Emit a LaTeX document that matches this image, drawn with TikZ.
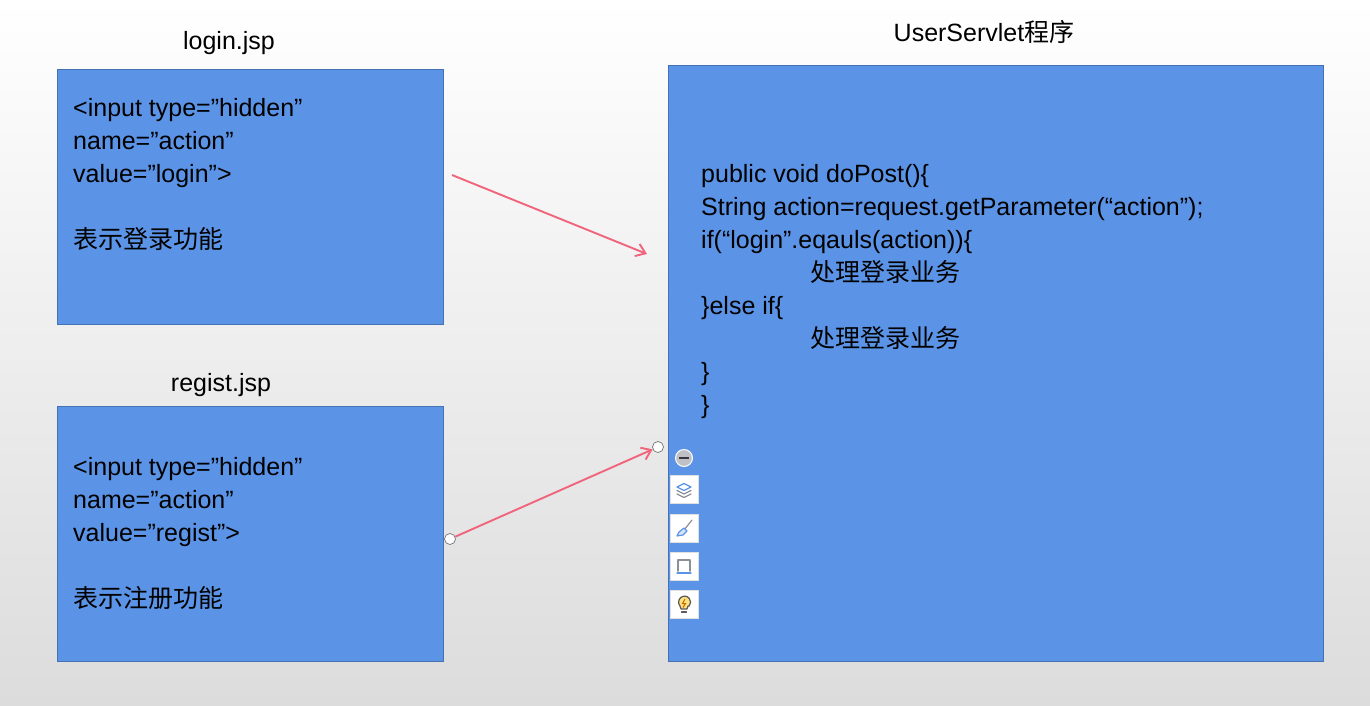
\documentclass[tikz,border=0pt]{standalone}
\usepackage{fontspec}
\usepackage{xcolor}
\usetikzlibrary{arrows.meta}
\setmainfont{Liberation Sans}
\newfontfamily\cjk{Noto Sans CJK SC}
\definecolor{boxfill}{HTML}{5B94E6}
\definecolor{boxedge}{HTML}{4472B4}
\definecolor{wire}{HTML}{F0647C}
\definecolor{bgbot}{HTML}{DCDCDC}
\definecolor{toolgray}{HTML}{8A8F98}
\definecolor{toolblue}{HTML}{5B94E6}
\tikzset{
  panel/.style={draw=boxedge, fill=boxfill, line width=1pt, inner sep=0pt, anchor=north west},
  title/.style={font=\fontsize{25}{30}\selectfont, text=black, inner sep=0pt},
  code/.style={font=\fontsize{25}{33}\selectfont, text=black, align=left, anchor=north west, inner sep=0pt},
  wireline/.style={draw=wire, line width=1.9pt, -{Straight Barb[length=9pt,width=13pt,line width=1.9pt]}},
  handle/.style={circle, draw=black!55, fill=white, line width=0.7pt, minimum size=11pt, inner sep=0pt},
  toolbtn/.style={fill=white, draw=black!12, line width=0.6pt, minimum size=28pt, inner sep=0pt},
  toolicon/.style={draw=toolgray, line width=1.2pt, line cap=round, line join=round}
}
\begin{document}
\begin{tikzpicture}[x=1pt,y=-1pt]
  % page
  \useasboundingbox (0,0) rectangle (1370,705);
  \shade[top color=white, middle color=white!94!black, bottom color=bgbot] (0,0) rectangle (1370,705);

  % boxes
  \node[panel, minimum width=386pt, minimum height=255pt] (login) at (57,69) {};
  \node[panel, minimum width=386pt, minimum height=255pt] (regist) at (57,406) {};
  \node[panel, minimum width=655pt, minimum height=596pt] (servlet) at (668,65) {};

  % titles
  \node[title] (logintitle) at (229,43) {login.jsp};
  \node[title] (registtitle) at (221,385) {regist.jsp};
  \node[title] (servlettitle) at (984,32) {UserServlet{\cjk 程序}};

  % texts
  \node[code] (logincode) at (73,98) {<input type=”hidden”\\name=”action”\\value=”login”>\\[33pt]{\cjk 表示登录功能}};
  \node[code] (registcode) at (73,457) {<input type=”hidden”\\name=”action”\\value=”regist”>\\[33pt]{\cjk 表示注册功能}};
  \node[code] (servletcode) at (701,164) {public void doPost()\{\\String action=request.getParameter(“action”);\\if(“login”.eqauls(action))\{\\\hspace*{109pt}{\cjk 处理登录业务}\\\}else if\{\\\hspace*{109pt}{\cjk 处理登录业务}\\\}\\\}};

  % connectors
  \coordinate (a1) at (452,175);
  \coordinate (a2) at (647,254);
  \draw[wireline] (a1) -- (a2);
  \node[handle] (h1) at (450,539) {};
  \node[handle] (h2) at (658,447) {};
  \draw[wireline] (h1) -- (h2);

  % tool strip
  \node[circle, fill=toolgray!55, draw=white, line width=1pt, minimum size=17pt, inner sep=0pt] (minus) at (684,458) {};
  \draw[toolgray!40!black, line width=1.6pt] (679,458) -- (689,458);
  \node[toolbtn] (tool1) at (684,489) {};
  \node[toolbtn] (tool2) at (684,528) {};
  \node[toolbtn] (tool3) at (684,566) {};
  \node[toolbtn] (tool4) at (684,604) {};
  % layers
  \draw[toolicon, draw=toolblue, fill=white] (677,487) -- (684,483.5) -- (691,487) -- (684,490.5) -- cycle;
  \draw[toolicon] (677,490.5) -- (684,494) -- (691,490.5);
  \draw[toolicon] (677,494) -- (684,497.5) -- (691,494);
  % brush
  \draw[toolicon] (692,520) -- (684,530);
  \draw[toolicon, draw=toolblue, fill=toolblue!25] (684,528) -- (687,531) -- (683,535) -- (677,536) -- (679,532) -- cycle;
  % frame
  \draw[toolicon, line width=1.6pt] (678,571) -- (678,560) -- (690,560) -- (690,571);
  \draw[toolicon, draw=toolblue] (677,573) -- (691,573);
  % bulb
  \draw[toolicon, draw=black!65, fill=yellow!60!orange!50] (681,609) -- (680,606) arc[start angle=220, end angle=-40, radius=6pt] -- (688,606) -- (687,609) -- cycle;
  \draw[toolicon, draw=black!65] (681.5,612) -- (686.5,612);
  \draw[orange!80!black, line width=1pt] (685,599) -- (682.5,603.5) -- (685.5,603.5) -- (683,607.5);
\end{tikzpicture}
\end{document}
